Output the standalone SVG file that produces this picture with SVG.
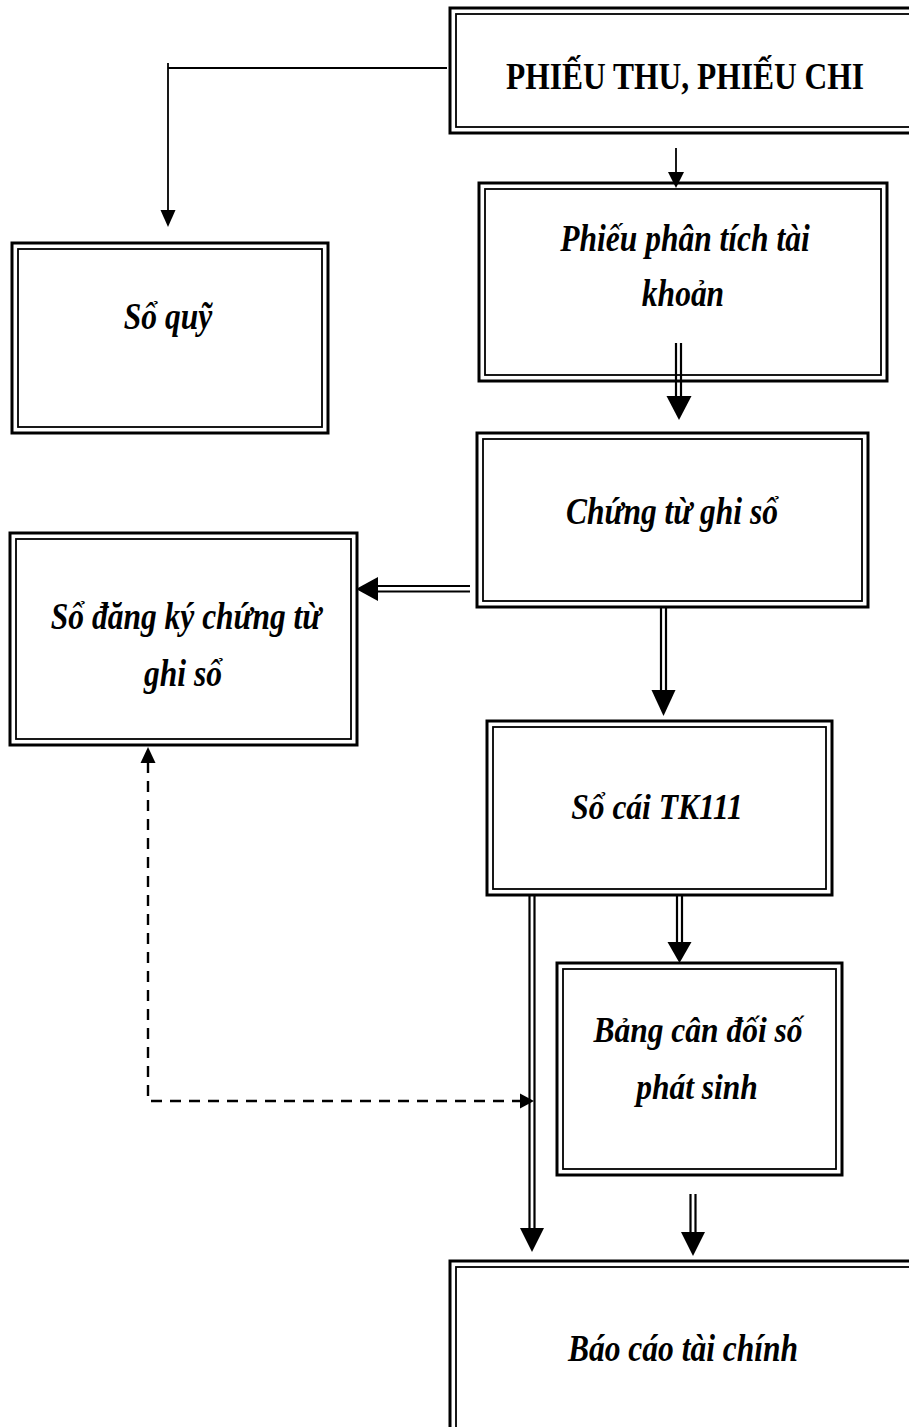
<svg xmlns="http://www.w3.org/2000/svg" width="909" height="1427" viewBox="0 0 909 1427">
<style>
.outer{fill:#fff;stroke:#000;stroke-width:3}
.inner{fill:none;stroke:#000;stroke-width:1.8}
.lbl{font-family:"Liberation Serif","Times New Roman",serif;font-size:31.5px;font-weight:bold;font-style:italic;text-anchor:middle;fill:#000}
.hdr{font-family:"Liberation Serif","Times New Roman",serif;font-size:31.5px;font-weight:bold;text-anchor:middle;fill:#000}
.ln{fill:none;stroke:#000;stroke-width:1.8}
.dl{fill:none;stroke:#000;stroke-width:2.2}
.dash{fill:none;stroke:#000;stroke-width:2.4;stroke-dasharray:11 8}
.head{fill:#000;stroke:none}
</style>
<rect width="909" height="1427" fill="#fff"/>
<g id="phieu-thu-chi">
<rect class="outer" x="450" y="8" width="470" height="125"/>
<rect class="inner" x="456" y="14" width="470" height="113"/>
<text class="hdr" transform="translate(685,89) scale(1,1.22)">PHIẾU THU, PHIẾU CHI</text>
</g>
<g id="so-quy">
<rect class="outer" x="12" y="243" width="316" height="190"/>
<rect class="inner" x="18" y="249" width="304" height="178"/>
<text class="lbl" transform="translate(168,329) scale(1,1.22)">Sổ quỹ</text>
</g>
<g id="phieu-phan-tich">
<rect class="outer" x="479" y="183" width="408" height="198"/>
<rect class="inner" x="485" y="189" width="396" height="186"/>
<text class="lbl" transform="translate(685,251) scale(1,1.22)">Phiếu phân tích tài</text>
<text class="lbl" transform="translate(683,306) scale(1,1.22)">khoản</text>
</g>
<g id="chung-tu-ghi-so">
<rect class="outer" x="477" y="433" width="391" height="174"/>
<rect class="inner" x="483" y="439" width="379" height="162"/>
<text class="lbl" transform="translate(672,524) scale(1,1.18)">Chứng từ ghi sổ</text>
</g>
<g id="so-dang-ky">
<rect class="outer" x="10" y="533" width="347" height="212"/>
<rect class="inner" x="16" y="539" width="335" height="200"/>
<text class="lbl" transform="translate(186,629) scale(1,1.18)">Sổ đăng ký chứng từ</text>
<text class="lbl" transform="translate(183,686) scale(1,1.18)">ghi sổ</text>
</g>
<g id="so-cai">
<rect class="outer" x="487" y="721" width="345" height="174"/>
<rect class="inner" x="493" y="727" width="333" height="162"/>
<text class="lbl" transform="translate(657,819) scale(1,1.12)">Sổ cái TK111</text>
</g>
<g id="bang-can-doi">
<rect class="outer" x="557" y="963" width="285" height="212"/>
<rect class="inner" x="563" y="969" width="273" height="200"/>
<text class="lbl" transform="translate(698,1042) scale(1,1.12)">Bảng cân đối số</text>
<text class="lbl" transform="translate(697,1099) scale(1,1.12)">phát sinh</text>
</g>
<g id="bao-cao">
<rect class="outer" x="450" y="1261" width="470" height="175"/>
<rect class="inner" x="456" y="1267" width="470" height="165"/>
<text class="lbl" transform="translate(683,1361) scale(1,1.18)">Báo cáo tài chính</text>
</g>
<g id="connectors">
<path class="ln" d="M447,68 H168 M168,63 V212"/>
<polygon class="head" points="160.5,210 175.5,210 168,227"/>
<path class="ln" d="M676,148 V174"/>
<polygon class="head" points="668,172 684,172 676,188"/>
<path class="dl" d="M676,343 V400 M681,343 V400"/>
<polygon class="head" points="666.5,396 691.5,396 679,420"/>
<path class="dl" d="M470,586 H376 M470,591.5 H376"/>
<polygon class="head" points="378,577 378,601 356,589"/>
<path class="dl" d="M661,607 V692 M666,607 V692"/>
<polygon class="head" points="651.5,690 675.5,690 663.5,716"/>
<path class="dl" d="M677,895 V945 M682,895 V945"/>
<polygon class="head" points="667.5,942 691.5,942 679.5,963"/>
<path class="dl" d="M529.5,895 V1230 M534.5,895 V1230"/>
<polygon class="head" points="520,1228 544,1228 532,1252"/>
<path class="dl" d="M690.5,1194 V1234 M695.5,1194 V1234"/>
<polygon class="head" points="681,1232 705,1232 693,1256"/>
<path class="dash" d="M148,762 V1101 H521"/>
<polygon class="head" points="148,747 140.5,763 155.5,763"/>
<polygon class="head" points="534,1101 520,1093.5 520,1108.5"/>
</g>
</svg>
